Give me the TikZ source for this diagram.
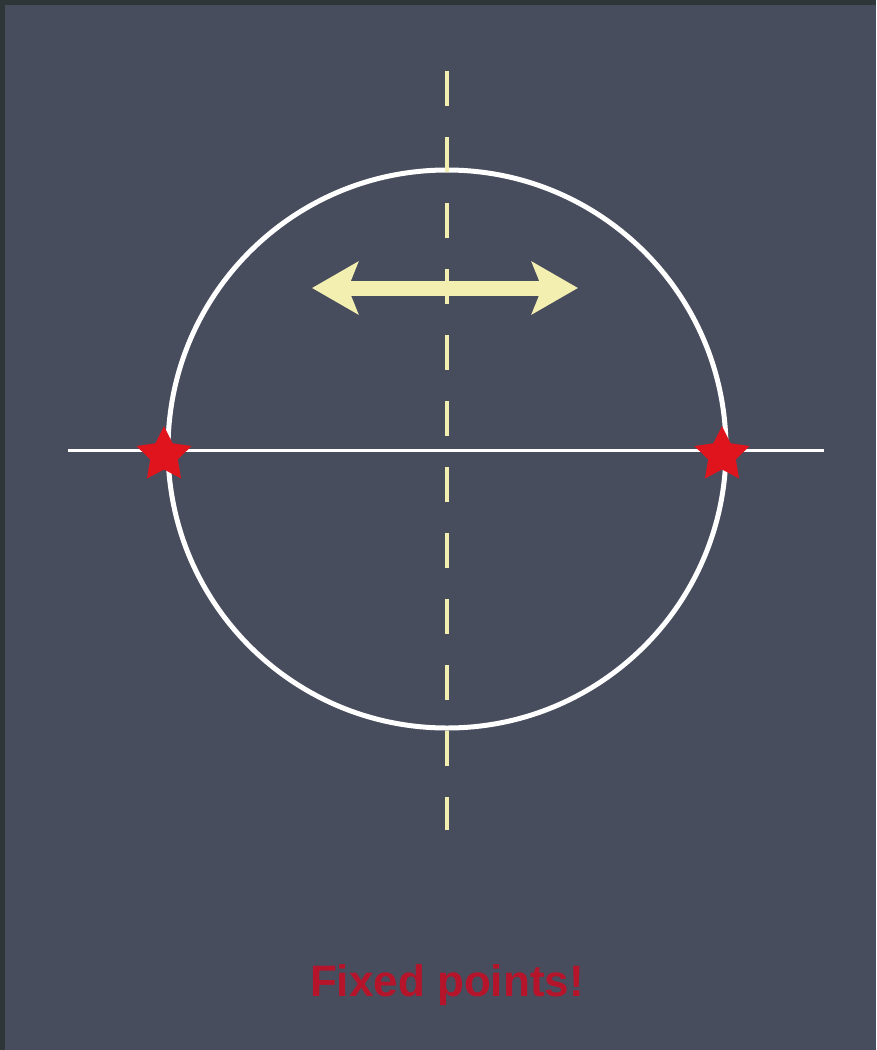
\documentclass[tikz,border=0pt]{standalone}
\usepackage{fontspec}
\setmainfont{Liberation Sans}
\usetikzlibrary{shapes.geometric,arrows.meta}
\definecolor{frame}{HTML}{2F3638}
\definecolor{board}{HTML}{484D5E}
\definecolor{chalkyellow}{HTML}{F3EFB0}
\definecolor{starred}{HTML}{E0141C}
\definecolor{textred}{HTML}{B5142A}
\tikzset{
  chalk/.style={white,line width=5pt},
  axisline/.style={white,line width=3pt},
  dashline/.style={chalkyellow,line width=3.5pt,dash pattern=on 35pt off 31pt},
  fixstar/.style={star,star points=5,star point ratio=2.0,fill=starred,draw=none,minimum size=58pt,inner sep=0pt},
  bigarrow/.style={chalkyellow,line width=15pt,{Stealth[width=52pt,length=46pt,inset=10pt]}-{Stealth[width=52pt,length=46pt,inset=10pt]}},
  label/.style={text=textred,font=\bfseries\fontsize{44}{50}\selectfont}
}
\begin{document}
\begin{tikzpicture}[x=1pt,y=-1pt]
\useasboundingbox (0,0) rectangle (876,1050);
\fill[frame] (0,0) rectangle (876,1050);
\fill[board] (5,5) rectangle (876,1050);
\coordinate (c) at (447,449);
\coordinate (htl) at (68,450);
\coordinate (htr) at (824,450);
\coordinate (vt) at (447,71);
\coordinate (vb) at (447,830);
\coordinate (al) at (312,288);
\coordinate (ar) at (578,288);
\draw[chalk] (c) circle (279);
\draw[axisline] (htl) -- (htr);
\draw[dashline] (vt) -- (vb);
\draw[bigarrow] (al) -- (ar);
\node[fixstar] (s1) at (164,455) {};
\node[fixstar] (s2) at (722,455) {};
\node[label] (t) at (447,985) {Fixed points!};
\end{tikzpicture}
\end{document}
